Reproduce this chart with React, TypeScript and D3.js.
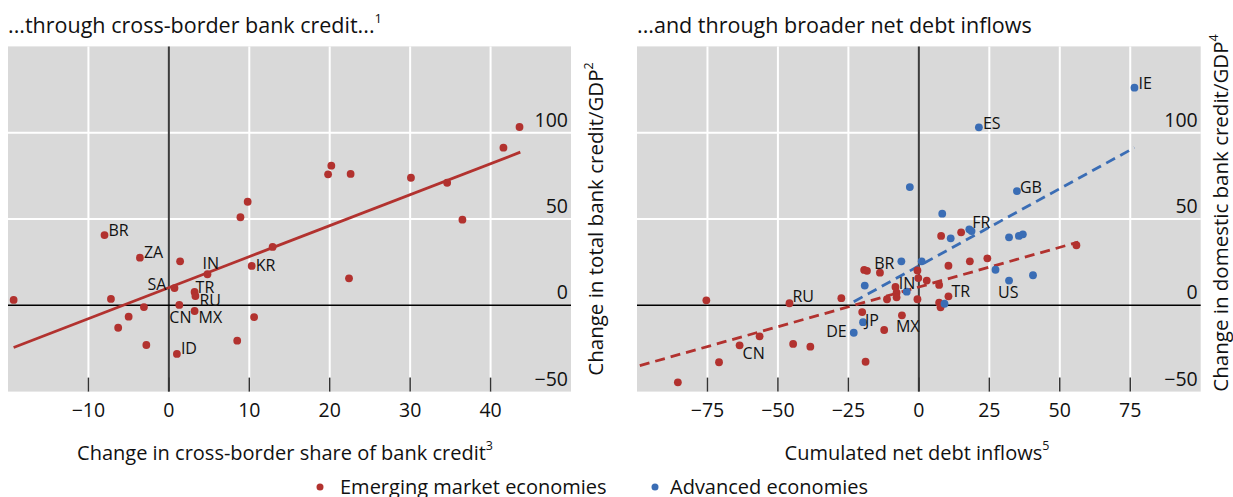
import React from "react";
import * as d3 from "d3";

// ---------- DATA ----------
const yTickValues = [-50, 0, 50, 100];
const leftXTickValues = [-10, 0, 10, 20, 30, 40];
const rightXTickValues = [-75, -50, -25, 0, 25, 50, 75];

// Left panel: emerging market economies
const leftLabels = ["BR", "", "", "", "", "", "", "", "", "", "", "ZA", "", "IN", "KR", "", "SA", "TR", "RU", "", "", "CN", "", "MX", "", "", "", "", "ID", "", ""];
const leftX = [-8.0, 9.8, 8.9, 43.6, 41.6, 20.2, 19.8, 22.6, 30.1, 34.6, 36.5, -3.6, 1.4, 4.8, 10.3, 12.9, 0.7, 3.2, 3.3, -19.3, -7.2, 1.3, -3.1, 3.2, -5.0, -6.3, 10.6, -2.8, 1.0, 8.5, 22.4];
const leftY = [40.7, 60.0, 51.0, 103.3, 91.3, 80.9, 75.9, 76.1, 73.9, 71.0, 49.6, 27.6, 25.5, 18.0, 22.8, 33.8, 10.0, 7.7, 5.4, 3.1, 3.7, 0.2, -1.0, -3.3, -6.6, -13.0, -6.8, -23.0, -28.2, -20.5, 15.6];
const leftFitCoef = [10.2, 1.797]; // intercept, slope
const leftFitRange = [-19.3, 43.7];

// Right panel: emerging market economies
const emeLabels = ["", "", "", "", "", "", "", "", "", "", "TR", "", "", "", "MX", "", "RU", "", "", "", "CN", "", "", "", "", "", "", "", "", "", "", "", "", ""];
const emeX = [7.9, 15.0, 55.9, 24.3, 18.1, 10.5, -0.5, -0.2, 2.8, 7.2, 10.5, -0.5, 7.2, 7.7, -6.0, -75.4, -45.9, -27.5, -85.5, -70.9, -63.6, -56.5, -44.6, -38.5, -18.9, -20.1, -12.3, -19.4, -18.4, -13.8, -8.3, -7.9, -7.9, -11.3];
const emeY = [40.2, 42.3, 34.8, 27.2, 25.5, 22.9, 20.2, 15.8, 14.3, 11.8, 5.2, 3.5, 1.5, -1.2, -5.8, 2.9, 1.2, 4.1, -44.6, -33.0, -23.2, -18.0, -22.4, -24.0, -32.7, -3.9, -14.3, 20.5, 20.0, 18.9, 10.6, 7.3, 4.6, 3.5];
const emeFitCoef = [10.6, 0.46];
const emeFitRange = [-99, 56.5];

// Right panel: advanced economies
const aeLabels = ["", "IE", "ES", "GB", "", "FR", "", "", "", "", "", "", "", "US", "", "BR", "IN", "", "DE", "JP", ""];
const aeX = [-3.2, 76.5, 21.3, 34.8, 8.3, 17.9, 18.7, 11.3, 32.0, 35.5, 36.9, 27.2, 40.5, 32.0, 1.0, -6.2, -4.3, 9.1, -23.1, -19.8, -19.2];
const aeY = [68.5, 126.1, 103.1, 66.2, 53.1, 44.0, 43.0, 38.8, 39.4, 40.2, 41.1, 20.6, 17.4, 14.3, 25.5, 25.5, 7.9, 0.9, -15.9, -9.8, 11.4];
const aeFitCoef = [22.8, 0.896];
const aeFitRange = [-23.1, 76.5];

// ---------- STYLE / LAYOUT ----------
const RED = "#b2322f";
const BLUE = "#3a6db5";
const FONT = "'Open Sans', 'Noto Sans', sans-serif";
const PLOT_TOP = 46.4;
const PLOT_BOTTOM = 391.6;

// label placements: [dx, dy, anchor]
const leftLabelPos: Record<string, [number, number, string]> = {
  BR: [4, 1, "start"], ZA: [4, 0, "start"], IN: [-5, -5, "start"], KR: [4, 5, "start"],
  SA: [-8, 2, "end"], TR: [1, 1, "start"], RU: [4, 10, "start"], CN: [-10, 18, "start"],
  MX: [4, 12, "start"], ID: [4, 0, "start"],
};
const rightLabelPos: Record<string, [number, number, string]> = {
  RU: [3, -1, "start"], CN: [3, 14, "start"], DE: [-7, 4, "end"], JP: [2, 4, "start"],
  MX: [-6, 17, "start"], BR: [-7, 8, "end"], IN: [-8, -3, "start"], TR: [3, 1, "start"],
  US: [-11, 17, "start"], FR: [3, -1, "start"], GB: [3, 2, "start"], ES: [4, 2, "start"],
  IE: [4, 1, "start"],
};

const yScale = d3.scaleLinear().domain([-50, 150]).range([PLOT_BOTTOM, PLOT_TOP]);

type Series = { xs: number[]; ys: number[]; labels: string[]; color: string };
type Fit = { coef: number[]; range: number[]; color: string; dashed: boolean };

function Panel(props: {
  x: d3.ScaleLinear<number, number>;
  xTicks: number[];
  series: Series[];
  fits: Fit[];
  labelPos: Record<string, [number, number, string]>;
}) {
  const { x, xTicks, series, fits, labelPos } = props;
  const [x0, x1] = x.range();
  const y0 = yScale(0);
  return (
    <g>
      <rect x={x0} y={PLOT_TOP} width={x1 - x0} height={PLOT_BOTTOM - PLOT_TOP} fill="#d9d9d9" />
      {xTicks.filter((t) => t !== 0).map((t) => (
        <line key={"gx" + t} x1={x(t)} x2={x(t)} y1={PLOT_TOP} y2={PLOT_BOTTOM} stroke="#fff" strokeWidth={2} />
      ))}
      {yTickValues.filter((t) => t !== 0 && t !== -50).map((t) => (
        <line key={"gy" + t} x1={x0} x2={x1} y1={yScale(t)} y2={yScale(t)} stroke="#fff" strokeWidth={2} />
      ))}
      <line x1={x(0)} x2={x(0)} y1={PLOT_TOP} y2={PLOT_BOTTOM} stroke="#3c3c3c" strokeWidth={2} />
      <line x1={x0} x2={x1} y1={y0} y2={y0} stroke="#000" strokeWidth={1.6} />
      {xTicks.map((t) => (
        <line key={"tk" + t} x1={x(t)} x2={x(t)} y1={PLOT_BOTTOM - 14} y2={PLOT_BOTTOM} stroke="#333" strokeWidth={1.5} />
      ))}
      {xTicks.map((t) => (
        <text key={"tl" + t} x={x(t)} y={417} textAnchor="middle" fontSize={19.5} fill="#111">
          {String(t).replace("-", "\u2212")}
        </text>
      ))}
      {yTickValues.map((t) => (
        <text key={"yl" + t} x={x1 - 3} y={yScale(t) - 6} textAnchor="end" fontSize={19.5} fill="#111">
          {String(t).replace("-", "\u2212")}
        </text>
      ))}
      {fits.map((f, i) => {
        const d = d3
          .line<number>()
          .x((v) => x(v))
          .y((v) => yScale(f.coef[0] + f.coef[1] * v))(f.range) as string;
        return (
          <path key={"fit" + i} d={d} fill="none" stroke={f.color} strokeWidth={2.8}
            strokeDasharray={f.dashed ? "10,6" : undefined} />
        );
      })}
      {series.map((s, si) =>
        s.xs.map((v, i) => (
          <circle key={"p" + si + "-" + i} cx={x(v)} cy={yScale(s.ys[i])} r={3.9} fill={s.color} />
        ))
      )}
      {series.map((s, si) =>
        s.labels.map((lab, i) => {
          if (!lab) return null;
          const p = labelPos[lab] || [4, 0, "start"];
          return (
            <text key={"lab" + si + "-" + i} x={x(s.xs[i]) + p[0]} y={yScale(s.ys[i]) + p[1]}
              textAnchor={p[2] as any} fontSize={16} fill="#111">
              {lab}
            </text>
          );
        })
      )}
    </g>
  );
}

export default function App() {
  const xL = d3.scaleLinear().domain([-20, 50]).range([8, 571]);
  const xR = d3.scaleLinear().domain([-100, 100]).range([637, 1200.7]);
  return (
    <div style={{ position: "absolute", left: 0, top: 0 }}>
      <svg width={1233} height={497} style={{ display: "block", fontFamily: FONT }}>
        <rect x={0} y={0} width={1233} height={497} fill="#fff" />
        <text x={8} y={33} fontSize={21.5} fill="#111">
          ...through cross-border bank credit...
          <tspan fontSize={13} dy={-10}>1</tspan>
        </text>
        <text x={637} y={33} fontSize={21.5} fill="#111">
          ...and through broader net debt inflows
        </text>
        <Panel x={xL} xTicks={leftXTickValues}
          series={[{ xs: leftX, ys: leftY, labels: leftLabels, color: RED }]}
          fits={[{ coef: leftFitCoef, range: leftFitRange, color: RED, dashed: false }]}
          labelPos={leftLabelPos} />
        <Panel x={xR} xTicks={rightXTickValues}
          series={[
            { xs: emeX, ys: emeY, labels: emeLabels, color: RED },
            { xs: aeX, ys: aeY, labels: aeLabels, color: BLUE },
          ]}
          fits={[
            { coef: emeFitCoef, range: emeFitRange, color: RED, dashed: true },
            { coef: aeFitCoef, range: aeFitRange, color: BLUE, dashed: true },
          ]}
          labelPos={rightLabelPos} />
        <text x={285} y={460} textAnchor="middle" fontSize={20} fill="#111">
          Change in cross-border share of bank credit
          <tspan fontSize={12.5} dy={-10}>3</tspan>
        </text>
        <text x={917} y={460} textAnchor="middle" fontSize={20} fill="#111">
          Cumulated net debt inflows
          <tspan fontSize={12.5} dy={-10}>5</tspan>
        </text>
        <text transform="translate(603,219) rotate(-90)" textAnchor="middle" fontSize={20.5} fill="#111">
          Change in total bank credit/GDP
          <tspan fontSize={12.5} dy={-10}>2</tspan>
        </text>
        <text transform="translate(1228,213) rotate(-90)" textAnchor="middle" fontSize={20.5} fill="#111">
          Change in domestic bank credit/GDP
          <tspan fontSize={12.5} dy={-10}>4</tspan>
        </text>
        <circle cx={320} cy={487} r={3.5} fill={RED} />
        <text x={340} y={494} fontSize={20} fill="#111">Emerging market economies</text>
        <circle cx={655} cy={487} r={3.5} fill={BLUE} />
        <text x={670} y={494} fontSize={20} fill="#111">Advanced economies</text>
      </svg>
    </div>
  );
}
